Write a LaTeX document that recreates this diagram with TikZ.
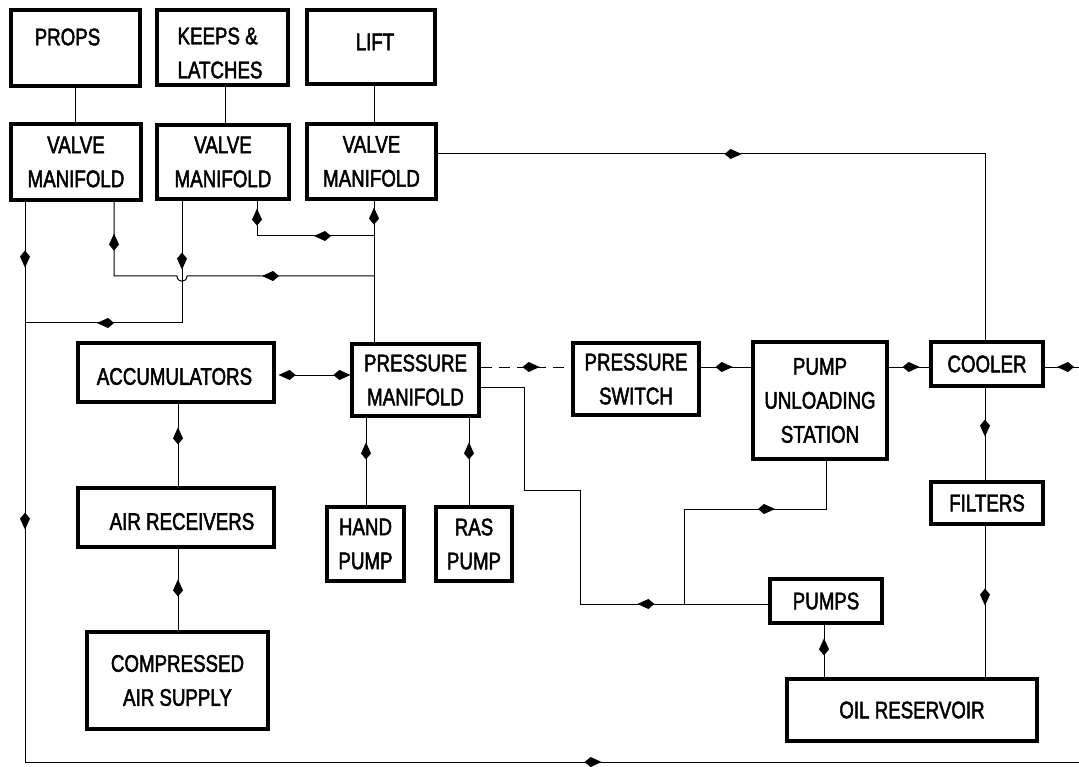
\documentclass[tikz,border=0pt]{standalone}
\usepackage{fontspec}
\setmainfont{Liberation Sans}[FakeStretch=0.78, FakeBold=2]
\usetikzlibrary{arrows.meta,decorations.markings}

\tikzset{
  box/.style={draw, line width=3.2pt, rectangle, inner sep=0pt, align=center},
  conn/.style={line width=1pt},
  dashconn/.style={line width=1pt, dash pattern=on 11pt off 7pt},
  tipat/.style={postaction={decorate, decoration={markings,
      mark=at position #1 with {\arrow{Kite[length=17pt,width=10pt,inset=6pt]}}}}},
  kitetip/.tip={Kite[length=17pt,width=10pt,inset=6pt]},
}

\begin{document}
\begin{tikzpicture}[x=1pt, y=-1pt, font=\fontsize{24}{34}\selectfont]
\useasboundingbox (0,0) rectangle (1079,767);

% ---------- boxes ----------
\node[box, minimum width=129pt, minimum height=76pt,
  label={[xshift=-8pt, yshift=11pt]center:PROPS}] (props) at (75.5,48) {};
\node[box, minimum width=131pt, minimum height=75pt,
  label={[align=left, xshift=-2.5pt, yshift=-5.5pt]center:KEEPS \&\\LATCHES}] (keeps) at (222.5,47.5) {};
\node[box, minimum width=128pt, minimum height=74pt,
  label={[xshift=4pt, yshift=5pt]center:LIFT}] (lift) at (371,47) {};

\node[box, minimum width=130pt, minimum height=76pt] (vm1) at (76,162) {VALVE\\MANIFOLD};
\node[box, minimum width=132pt, minimum height=74pt] (vm2) at (223,162) {VALVE\\MANIFOLD};
\node[box, minimum width=129pt, minimum height=75pt] (vm3) at (371.5,161.5) {VALVE\\MANIFOLD};

\node[box, minimum width=196pt, minimum height=59pt,
  label={[xshift=-1.5pt, yshift=-4pt]center:ACCUMULATORS}] (acc) at (176,372.5) {};
\node[box, minimum width=127pt, minimum height=72pt] (pm) at (415.5,380) {PRESSURE\\MANIFOLD};
\node[box, minimum width=126pt, minimum height=72pt] (ps) at (636,379) {PRESSURE\\SWITCH};
\node[box, minimum width=134pt, minimum height=117pt] (pus) at (820,400.5) {PUMP\\UNLOADING\\STATION};
\node[box, minimum width=112pt, minimum height=44pt] (cooler) at (987,364) {COOLER};
\node[box, minimum width=112pt, minimum height=42pt] (filters) at (987,503) {FILTERS};

\node[box, minimum width=196pt, minimum height=59pt,
  label={[xshift=6pt, yshift=-4pt]center:AIR RECEIVERS}] (airrec) at (176,517.5) {};
\node[box, minimum width=181pt, minimum height=97pt] (comp) at (177.5,680.5) {COMPRESSED\\AIR SUPPLY};
\node[box, minimum width=77pt, minimum height=74pt] (hand) at (365.5,544) {HAND\\PUMP};
\node[box, minimum width=76pt, minimum height=74pt] (ras) at (474,544) {RAS\\PUMP};
\node[box, minimum width=112pt, minimum height=44pt] (pumps) at (826,601) {PUMPS};
\node[box, minimum width=250pt, minimum height=62pt] (oil) at (912,710) {OIL RESERVOIR};

% ---------- reference columns / rows ----------
\coordinate (xA) at (25,0);
\coordinate (xB) at (114,0);
\coordinate (xC) at (182,0);
\coordinate (xKp) at (225,0);
\coordinate (xD) at (257,0);
\coordinate (xE) at (374,0);
\coordinate (xAR) at (178,0);
\coordinate (xH) at (366,0);
\coordinate (xR) at (469,0);
\coordinate (xP) at (824,0);
\coordinate (xU) at (826,0);
\coordinate (xK) at (985,0);
\coordinate (y154) at (0,154);
\coordinate (y367) at (0,367);
\coordinate (y375) at (0,375);
\coordinate (y387) at (0,387);
\coordinate (y604) at (0,604);
\coordinate (j236) at (374,236);
\coordinate (j276) at (374,276);
\coordinate (jC) at (25,323);
\coordinate (jP) at (684,604);
\coordinate (bl) at (25,762);
\coordinate (br) at (1079,762);
\coordinate (er) at (1079,367);

% ---------- connectors ----------
\draw[conn] (props.south) -- (props.south |- vm1.north);
\draw[conn] (keeps.south -| xKp) -- (vm2.north -| xKp);
\draw[conn] (lift.south -| xE) -- (vm3.north -| xE);

% return line from valve manifold 1 round the bottom
\draw[conn, tipat=66pt, tipat=328pt, tipat=1137pt] (vm1.south -| xA) -- (bl) -- (br);
% feed to valve manifold 1 (with hop)
\draw[conn, tipat=112pt, tipat=-32pt] (j276) -- (187,276)
  .. controls (187,283) and (177,283) .. (177,276) -- (xB |- j276) -- (vm1.south -| xB);
% return from valve manifold 2
\draw[conn, tipat=69pt, tipat=-72pt] (vm2.south -| xC) -- (xC |- jC) -- (jC);
% feed to valve manifold 2
\draw[conn, tipat=60pt, tipat=-8pt] (j236) -- (xD |- j236) -- (vm2.south -| xD);
% main feed to valve manifold 3
\draw[conn, tipat=-7pt] (pm.north -| xE) -- (vm3.south -| xE);
% return from valve manifold 3 to cooler
\draw[conn, tipat=304pt] (vm3.east |- y154) -- (xK |- y154) -- (cooler.north -| xK);

% accumulators <-> pressure manifold
\draw[conn, {kitetip}-{kitetip}, shorten <=3pt] (acc.east |- y375) -- (pm.west |- y375);
% pressure line
\draw[dashconn, tipat=59pt] (pm.east |- y367) -- (ps.west |- y367);
\draw[conn, tipat=32pt] (ps.east |- y367) -- (pus.west |- y367);
\draw[conn, tipat=31pt] (pus.east |- y367) -- (cooler.west |- y367);
\draw[conn, tipat=22pt] (er) -- (cooler.east |- y367);
\draw[conn, tipat=49pt] (cooler.south -| xK) -- (filters.north -| xK);
\draw[conn, tipat=80pt] (filters.south -| xK) -- (oil.north -| xK);
\draw[conn, tipat=39pt] (oil.north -| xP) -- (pumps.south -| xP);

% pumps -> pressure manifold
\draw[conn, tipat=131pt] (pumps.west |- y604) -- (580,604) -- (580,490) -- (524,490)
  -- (524,387) -- (pm.east |- y387);
% pumps -> pump unloading station
\draw[conn, tipat=186pt] (jP) -- (684,509) -- (826,509) -- (pus.south -| xU);

% hand / RAS pumps
\draw[conn, tipat=63pt] (hand.north -| xH) -- (pm.south -| xH);
\draw[conn, tipat=63pt] (ras.north -| xR) -- (pm.south -| xR);

% air side
\draw[conn, tipat=59pt] (airrec.north -| xAR) -- (acc.south -| xAR);
\draw[conn, tipat=51pt] (comp.north -| xAR) -- (airrec.south -| xAR);
\end{tikzpicture}
\end{document}
